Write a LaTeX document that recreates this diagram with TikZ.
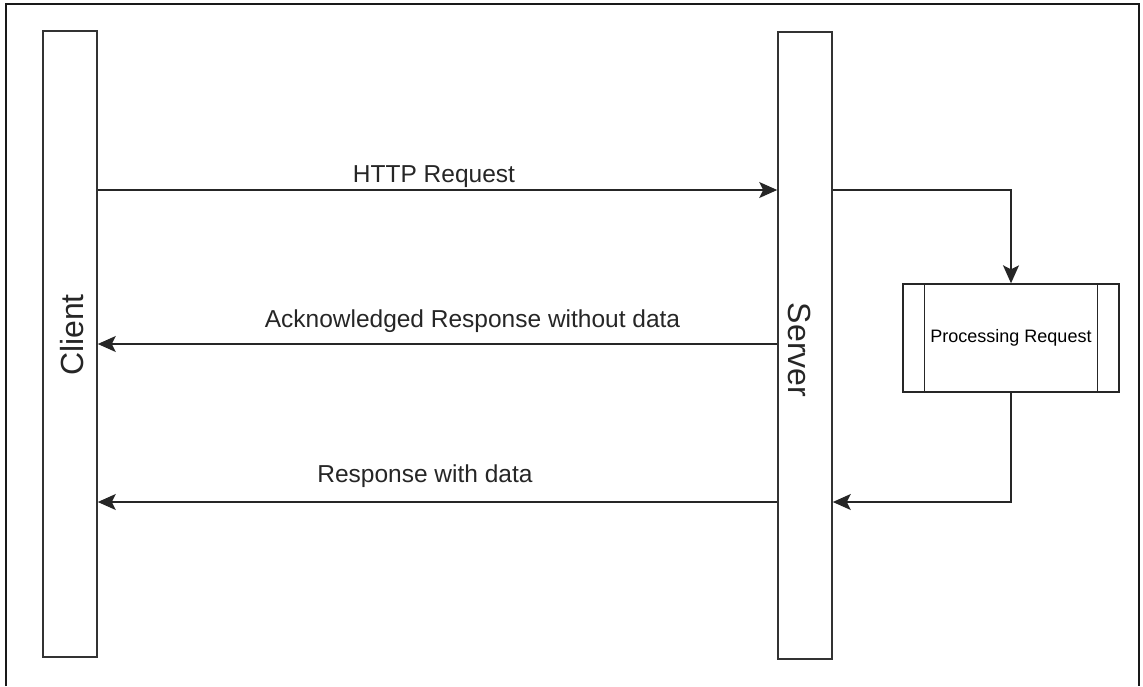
\documentclass[tikz,border=0pt]{standalone}
\usepackage{fontspec}
\setmainfont{Liberation Sans}
\usetikzlibrary{arrows.meta}
\begin{document}
\begin{tikzpicture}[x=1pt,y=-1pt,
  life/.style={draw=black!80, line width=1.6pt, minimum width=54pt, inner sep=0pt},
  procbox/.style={draw=black!85, line width=1.4pt, minimum width=216pt, minimum height=108pt, inner sep=0pt, font=\fontsize{18}{21}\selectfont},
  msg/.style={draw=black!85, line width=1.5pt, -{Stealth[length=18pt,width=16pt,inset=4pt]}},
  lbl/.style={anchor=base, inner sep=0pt, font=\fontsize{24.5}{29}\selectfont, text=black!85},
  big/.style={inner sep=0pt, font=\fontsize{32}{38}\selectfont, text=black!85}]
\useasboundingbox (0,0) rectangle (1143,686);
% frame
\draw[line width=2.4pt, black!90] (6,686) -- (6,4) -- (1139,4) -- (1139,686);
% lifelines
\node[life, minimum height=626pt] (client) at (70,344) {};
\node[life, minimum height=627pt] (server) at (805,345.5) {};
\node[big, rotate=90] (clientlbl) at (72,335) {Client};
\node[big, rotate=-90] (serverlbl) at (800,350) {Server};
% process box
\node[procbox] (proc) at (1011,338) {Processing Request};
\draw[line width=1.4pt, black!85] ([xshift=22pt]proc.north west) -- ([xshift=22pt]proc.south west);
\draw[line width=1.4pt, black!85] ([xshift=-22pt]proc.north east) -- ([xshift=-22pt]proc.south east);
% message levels
\coordinate (h1) at (0,190);
\coordinate (h2) at (0,344);
\coordinate (h3) at (0,502);
\draw[msg] (client.east |- h1) -- (server.west |- h1);
\draw[msg] (server.west |- h2) -- (client.east |- h2);
\draw[msg] (server.west |- h3) -- (client.east |- h3);
\draw[msg] (server.east |- h1) -| (proc.north);
\draw[msg] (proc.south) |- (server.east |- h3);
% labels
\node[lbl] (l1) at (434,182) {HTTP Request};
\node[lbl] (l2) at (472.5,327) {Acknowledged Response without data};
\node[lbl] (l3) at (425,482) {Response with data};
\end{tikzpicture}
\end{document}
